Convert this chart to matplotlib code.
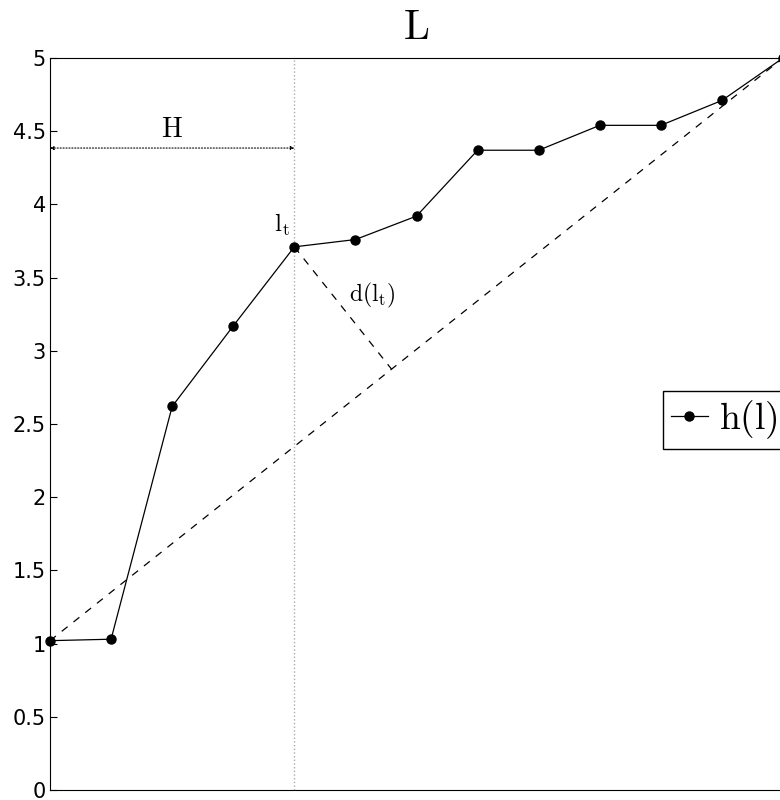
import numpy as np
import matplotlib
matplotlib.use("Agg")
import matplotlib.pyplot as plt

plt.rcParams["mathtext.fontset"] = "cm"

# -- Data ------------------------------------------------------------------
l_idx = list(range(13))
h_vals = [1.02, 1.03, 2.62, 3.17, 3.71, 3.76, 3.92, 4.37, 4.37, 4.54, 4.54, 4.71, 5.0]
t_idx = 4            # knee point l_t
y_ticks = [0, 0.5, 1, 1.5, 2, 2.5, 3, 3.5, 4, 4.5, 5]
y_ticklabels = ["0", "0.5", "1", "1.5", "2", "2.5", "3", "3.5", "4", "4.5", "5"]

fig = plt.figure(figsize=(7.8, 8), dpi=100)
ax = fig.add_axes([50 / 780, 10 / 800, 733 / 780, 732 / 800])
ax.set_xlim(0, 12)
ax.set_ylim(0, 5)

# main curve
ax.plot(l_idx, h_vals, "-", color="black", lw=0.9, marker="o", ms=6.5,
        label=r"$\mathrm{h(l)}$", clip_on=False, zorder=3)

# chord from first to last point
ax.plot([l_idx[0], l_idx[-1]], [h_vals[0], h_vals[-1]], "--", color="black",
        lw=0.9, dashes=(6, 6), zorder=2)

# perpendicular from l_t to the chord (in display space)
tr = ax.transData
A = tr.transform((l_idx[0], h_vals[0]))
B = tr.transform((l_idx[-1], h_vals[-1]))
P = tr.transform((l_idx[t_idx], h_vals[t_idx]))
d = B - A
t = np.dot(P - A, d) / np.dot(d, d)
F = tr.inverted().transform(A + t * d)
ax.plot([l_idx[t_idx], F[0]], [h_vals[t_idx], F[1]], "--", color="black",
        lw=0.9, dashes=(6, 6), zorder=2)

# vertical dotted line at l_t
ax.axvline(l_idx[t_idx], color="#aaaaaa", ls=":", lw=1.0, zorder=1)

# H arrow
ax.annotate("", xy=(l_idx[t_idx], 4.385), xytext=(l_idx[0], 4.385),
            arrowprops=dict(arrowstyle="<|-|>", color="black", lw=0.8,
                            ls=":", mutation_scale=5, shrinkA=0, shrinkB=0))
ax.text(2.0, 4.42, r"$\mathrm{H}$", ha="center", va="bottom", fontsize=20)

ax.text(3.93, 3.77, r"$\mathrm{l_t}$", ha="right", va="bottom", fontsize=18)
ax.text(4.9, 3.28, r"$\mathrm{d(l_t)}$", ha="left", va="bottom", fontsize=17)

ax.set_title(r"$\mathrm{L}$", fontsize=30, pad=14)

ax.set_yticks(y_ticks)
ax.set_yticklabels(y_ticklabels, fontsize=15)
ax.set_xticks([])
ax.tick_params(axis="y", direction="in", length=5, width=0.8, pad=3)

leg = ax.legend(loc="center left", bbox_to_anchor=(663 / 780, 1 - 420 / 800),
                bbox_transform=fig.transFigure, borderaxespad=0,
                fontsize=27, fancybox=False, edgecolor="black", framealpha=1,
                handlelength=1.0, borderpad=0.2, handletextpad=0.3)
leg.get_frame().set_linewidth(1.0)

fig.savefig("out.png", dpi=100, facecolor="white")
